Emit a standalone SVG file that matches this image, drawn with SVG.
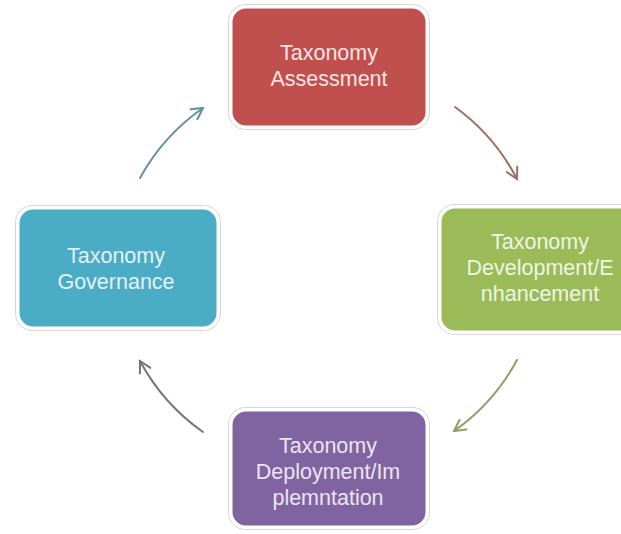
<svg xmlns="http://www.w3.org/2000/svg" width="621" height="534" viewBox="0 0 621 534">
<style>
.box{stroke:#fff;stroke-width:3}
.halo{fill:none;stroke:#d6d6d6;stroke-width:1}
.lbl{font-family:"Liberation Sans",Arial,sans-serif;font-size:21.5px;text-anchor:middle}
.conn{fill:none;stroke-width:2;stroke-linecap:round}
</style>
<defs>
<marker id="mT" viewBox="0 0 14 14" refX="12" refY="7" markerWidth="14" markerHeight="14" markerUnits="userSpaceOnUse" orient="auto"><path d="M1,1 L12,7 L1,13" fill="none" stroke="#5f929e" stroke-width="2" stroke-linecap="round"/></marker>
<marker id="mR" viewBox="0 0 14 14" refX="12" refY="7" markerWidth="14" markerHeight="14" markerUnits="userSpaceOnUse" orient="auto"><path d="M1,1 L12,7 L1,13" fill="none" stroke="#9f6c66" stroke-width="2" stroke-linecap="round"/></marker>
<marker id="mG" viewBox="0 0 14 14" refX="12" refY="7" markerWidth="14" markerHeight="14" markerUnits="userSpaceOnUse" orient="auto"><path d="M1,1 L12,7 L1,13" fill="none" stroke="#949c6a" stroke-width="2" stroke-linecap="round"/></marker>
<marker id="mP" viewBox="0 0 14 14" refX="12" refY="7" markerWidth="14" markerHeight="14" markerUnits="userSpaceOnUse" orient="auto"><path d="M1,1 L12,7 L1,13" fill="none" stroke="#74747f" stroke-width="2" stroke-linecap="round"/></marker>
</defs>
<rect width="621" height="534" fill="#fff"/>
<g id="connectors">
<path class="conn" stroke="#5f929e" marker-end="url(#mT)" d="M140,178 A206,206 0 0 1 203,108"/>
<path class="conn" stroke="#9f6c66" marker-end="url(#mR)" d="M455,107 A206,206 0 0 1 517,179"/>
<path class="conn" stroke="#949c6a" marker-end="url(#mG)" d="M517,360 A206,206 0 0 1 454,431"/>
<path class="conn" stroke="#74747f" marker-end="url(#mP)" d="M203,432 A206,206 0 0 1 140,361"/>
</g>
<g id="assessment">
<rect class="halo" x="228.5" y="4.5" width="201" height="125" rx="17"/>
<rect class="box" x="231" y="7" width="196" height="120" rx="15" fill="#C0504D"/>
<text class="lbl" fill="#f7e4e3"><tspan x="329" y="60">Taxonomy</tspan><tspan x="329" y="86">Assessment</tspan></text>
</g>
<g id="development">
<rect class="halo" x="437.5" y="204.5" width="203" height="130" rx="17"/>
<rect class="box" x="440" y="207" width="198" height="125" rx="15" fill="#9BBB59"/>
<text class="lbl" fill="#eef5e2"><tspan x="540" y="249">Taxonomy</tspan><tspan x="540" y="275">Development/E</tspan><tspan x="540" y="301">nhancement</tspan></text>
</g>
<g id="deployment">
<rect class="halo" x="228.5" y="407.5" width="201" height="122" rx="17"/>
<rect class="box" x="231" y="410" width="196" height="117" rx="15" fill="#8064A2"/>
<text class="lbl" fill="#ece4f4"><tspan x="328" y="453">Taxonomy</tspan><tspan x="328" y="479">Deployment/Im</tspan><tspan x="328" y="505">plemntation</tspan></text>
</g>
<g id="governance">
<rect class="halo" x="15.5" y="205.5" width="205" height="125" rx="17"/>
<rect class="box" x="18" y="208" width="200" height="120" rx="15" fill="#4BACC6"/>
<text class="lbl" fill="#e3f3f8"><tspan x="116" y="263">Taxonomy</tspan><tspan x="116" y="289">Governance</tspan></text>
</g>
</svg>
